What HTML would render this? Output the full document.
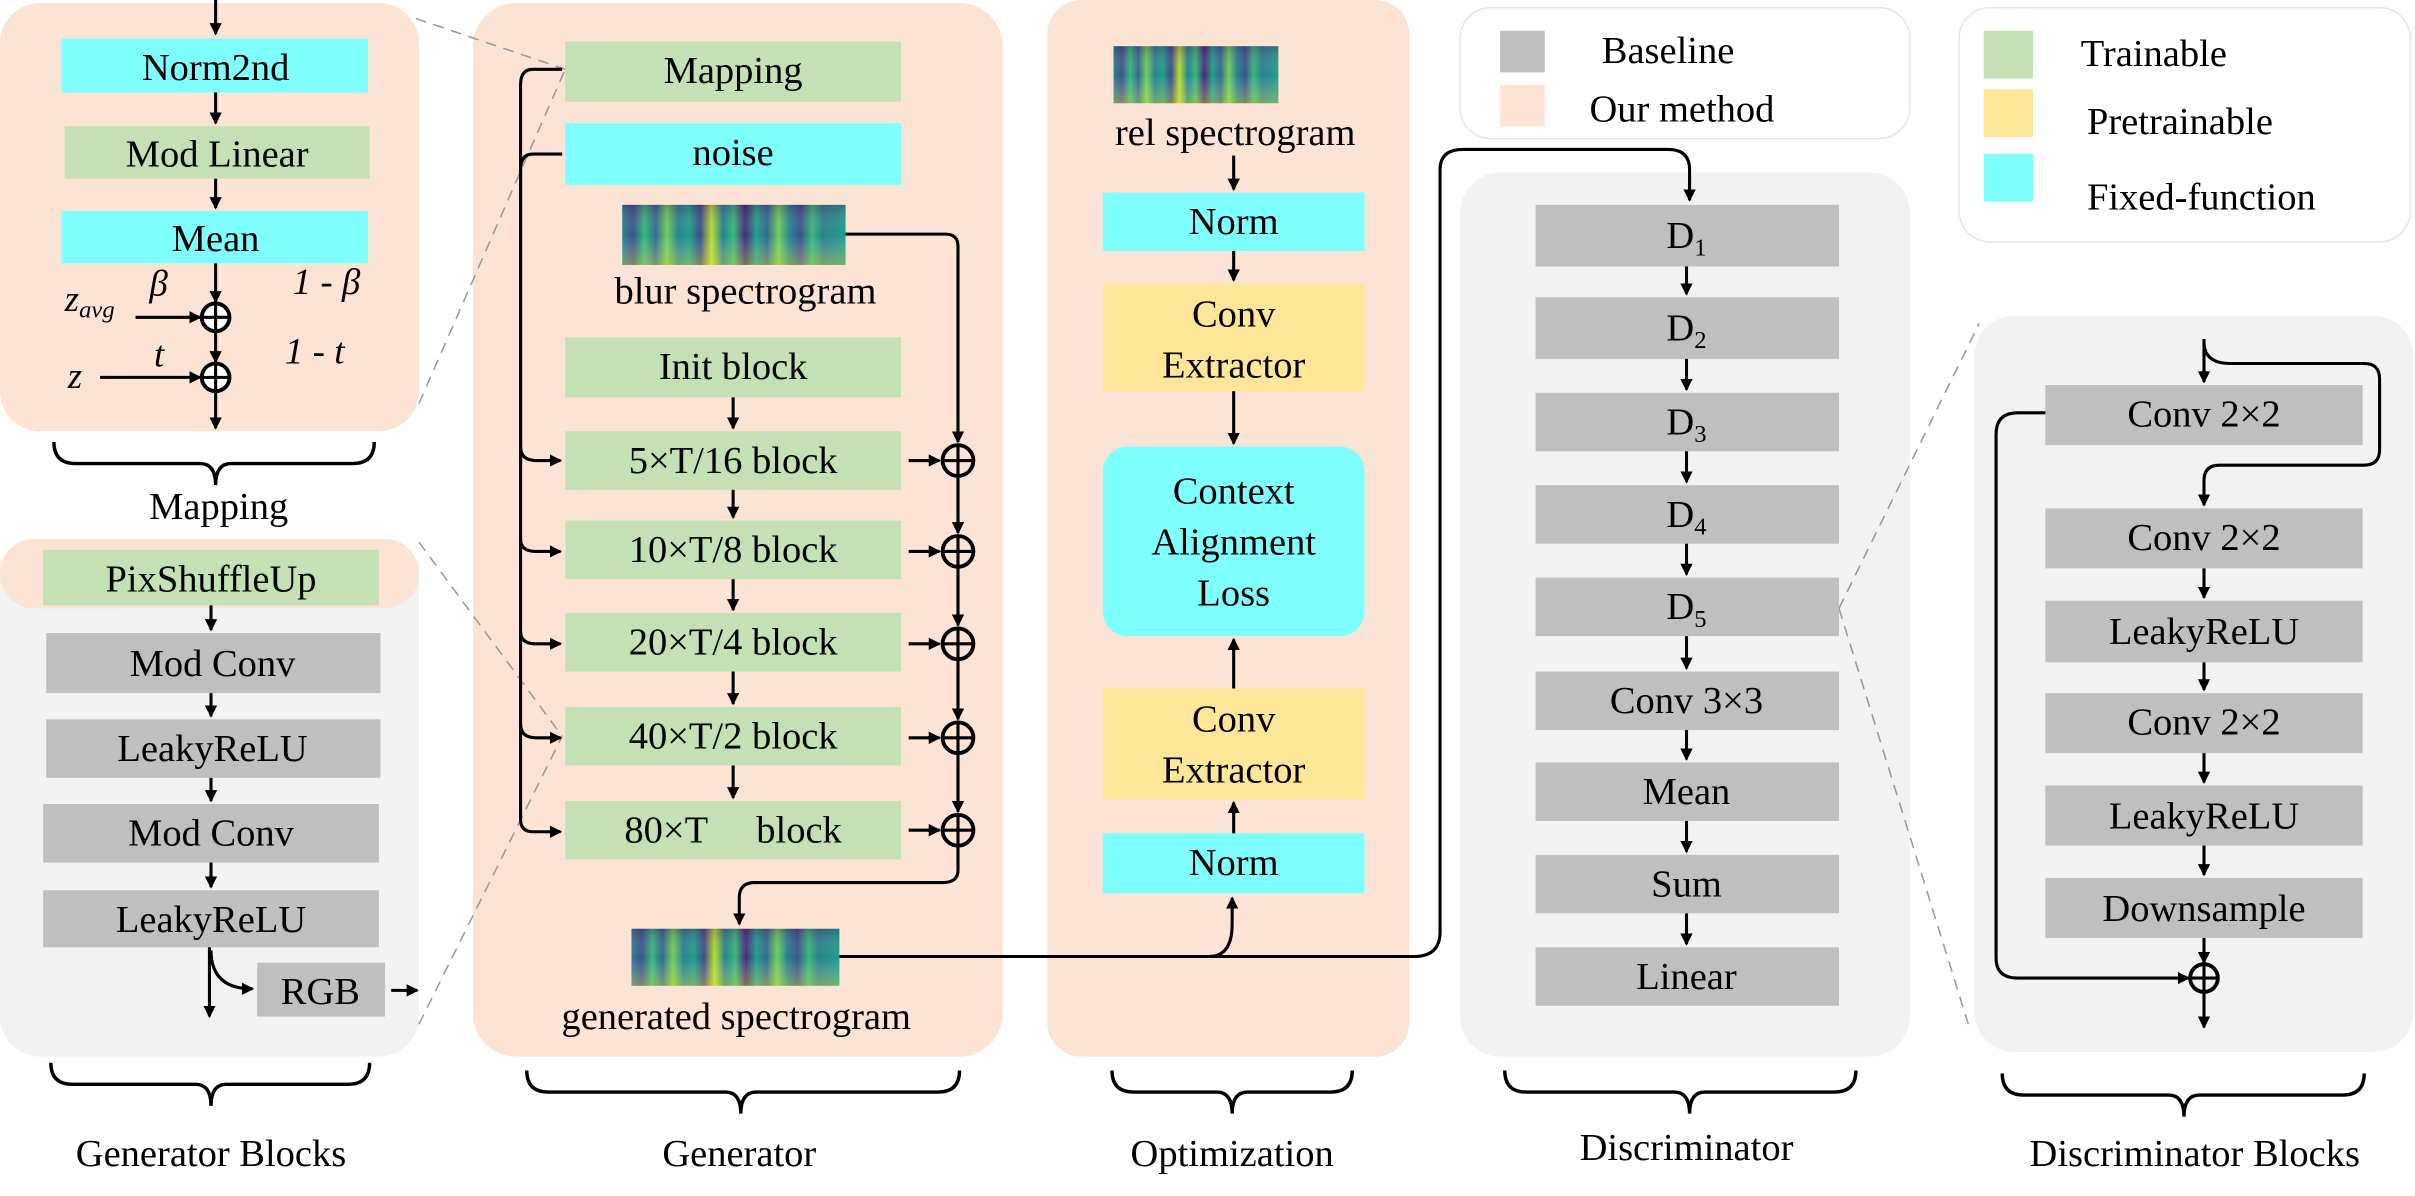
<!DOCTYPE html>
<html><head><meta charset="utf-8"><style>
html,body{margin:0;padding:0;background:#fff}
svg{display:block;font-family:"Liberation Serif","DejaVu Serif",serif}
svg text{font-family:"Liberation Serif","DejaVu Serif",serif;fill:#000}
</style></head><body>
<svg width="2415" height="1196" viewBox="0 0 1568 776.5" preserveAspectRatio="none" xmlns="http://www.w3.org/2000/svg" font-family="Liberation Serif, DejaVu Serif, serif">
<defs>
<marker id="a" markerWidth="8" markerHeight="8" refX="7" refY="4" orient="auto" markerUnits="userSpaceOnUse"><path d="M0,0 L8,4 L0,8 z" fill="#000"/></marker>
<linearGradient id="sp" x1="0" x2="1" y1="0" y2="0">
<stop offset="0" stop-color="#2c7f8e"/><stop offset=".05" stop-color="#3b528b"/><stop offset=".1" stop-color="#35b779"/><stop offset=".15" stop-color="#31688e"/><stop offset=".2" stop-color="#6ece58"/><stop offset=".25" stop-color="#26828e"/><stop offset=".3" stop-color="#1f9e89"/><stop offset=".35" stop-color="#3e4a89"/><stop offset=".4" stop-color="#b5de2b"/><stop offset=".45" stop-color="#26828e"/><stop offset=".5" stop-color="#35b779"/><stop offset=".55" stop-color="#482878"/><stop offset=".6" stop-color="#1f9e89"/><stop offset=".65" stop-color="#31688e"/><stop offset=".7" stop-color="#6ece58"/><stop offset=".75" stop-color="#26828e"/><stop offset=".8" stop-color="#3b528b"/><stop offset=".85" stop-color="#35b779"/><stop offset=".9" stop-color="#2c7f8e"/><stop offset="1" stop-color="#1f9e89"/>
</linearGradient>
<linearGradient id="spv" x1="0" x2="0" y1="0" y2="1">
<stop offset="0" stop-color="#440154" stop-opacity=".25"/><stop offset=".5" stop-color="#fff" stop-opacity="0"/><stop offset="1" stop-color="#fde725" stop-opacity=".35"/>
</linearGradient>
</defs>

<!-- panels -->
<rect x="0" y="2" width="272" height="278" rx="26" fill="#fbe4d5"/>
<rect x="0" y="350" width="272" height="336" rx="26" fill="#f2f2f2"/>
<rect x="0" y="350" width="272" height="45" rx="22" fill="#fbe4d5"/>
<rect x="307" y="2" width="344" height="684" rx="28" fill="#fbe4d5"/>
<rect x="680" y="0" width="235" height="686" rx="22" fill="#fbe4d5"/>
<rect x="948" y="112" width="292" height="574" rx="26" fill="#f2f2f2"/>
<rect x="1282" y="205" width="285" height="478" rx="26" fill="#f2f2f2"/>
<rect x="948" y="5" width="292" height="85" rx="20" fill="#fff" stroke="#e6e6e6"/>
<rect x="1272" y="5" width="293" height="152" rx="20" fill="#fff" stroke="#e6e6e6"/>

<!-- dashed zoom lines -->
<g stroke="#999" stroke-width="1" stroke-dasharray="7,5" fill="none">
<line x1="270" y1="12" x2="367" y2="45"/><line x1="272" y1="262" x2="367" y2="45"/>
<line x1="272" y1="352" x2="365" y2="478"/><line x1="272" y1="665" x2="365" y2="478"/>
<line x1="1194" y1="395" x2="1285" y2="210"/><line x1="1194" y1="395" x2="1278" y2="665"/>
</g>

<!-- Mapping panel -->
<rect x="40" y="25" width="199" height="35" fill="#80ffff"/><text x="140" y="52" font-size="25" text-anchor="middle">Norm2nd</text>
<rect x="42" y="82" width="198" height="34" fill="#c5e0b4"/><text x="141" y="108" font-size="25" text-anchor="middle">Mod Linear</text>
<rect x="40" y="137" width="199" height="34" fill="#80ffff"/><text x="140" y="163" font-size="25" text-anchor="middle">Mean</text>
<g stroke="#000" stroke-width="2" fill="none">
<line x1="140" y1="0" x2="140" y2="22" marker-end="url(#a)"/>
<line x1="140" y1="60" x2="140" y2="80" marker-end="url(#a)"/>
<line x1="140" y1="116" x2="140" y2="135" marker-end="url(#a)"/>
<line x1="140" y1="171" x2="140" y2="196" marker-end="url(#a)"/>
<line x1="140" y1="214" x2="140" y2="235" marker-end="url(#a)"/>
<line x1="140" y1="253" x2="140" y2="278" marker-end="url(#a)"/>
<line x1="88" y1="206" x2="130" y2="206" marker-end="url(#a)"/>
<line x1="65" y1="245" x2="130" y2="245" marker-end="url(#a)"/>
<circle cx="140" cy="206" r="9" fill="#fff" stroke-width="2.5"/><path d="M131,206H149M140,197V215"/>
<circle cx="140" cy="245" r="9" fill="#fff" stroke-width="2.5"/><path d="M131,245H149M140,236V254"/>
</g>
<text x="42" y="202" font-size="24" font-style="italic">z<tspan font-size="16" dy="4">avg</tspan></text>
<text x="97" y="192" font-size="24" font-style="italic">β</text>
<text x="190" y="191" font-size="24" font-style="italic">1 - β</text>
<text x="100" y="238" font-size="24" font-style="italic">t</text>
<text x="185" y="236" font-size="24" font-style="italic">1 - t</text>
<text x="44" y="252" font-size="24" font-style="italic">z</text>

<!-- Generator Blocks -->
<rect x="28" y="357" width="218" height="36" fill="#c5e0b4"/><text x="137" y="384" font-size="25" text-anchor="middle">PixShuffleUp</text>
<rect x="30" y="411" width="217" height="39" fill="#bfbfbf"/><text x="138" y="439" font-size="25" text-anchor="middle">Mod Conv</text>
<rect x="30" y="467" width="217" height="38" fill="#bfbfbf"/><text x="138" y="494" font-size="25" text-anchor="middle">LeakyReLU</text>
<rect x="28" y="522" width="218" height="38" fill="#bfbfbf"/><text x="137" y="549" font-size="25" text-anchor="middle">Mod Conv</text>
<rect x="28" y="578" width="218" height="37" fill="#bfbfbf"/><text x="137" y="605" font-size="25" text-anchor="middle">LeakyReLU</text>
<rect x="167" y="625" width="83" height="35" fill="#bfbfbf"/><text x="208" y="652" font-size="25" text-anchor="middle">RGB</text>
<g stroke="#000" stroke-width="2" fill="none">
<line x1="137" y1="393" x2="137" y2="409" marker-end="url(#a)"/>
<line x1="137" y1="450" x2="137" y2="465" marker-end="url(#a)"/>
<line x1="137" y1="505" x2="137" y2="520" marker-end="url(#a)"/>
<line x1="137" y1="560" x2="137" y2="576" marker-end="url(#a)"/>
<line x1="136" y1="615" x2="136" y2="660" marker-end="url(#a)"/>
<path d="M137,617 Q137,642 164,642" marker-end="url(#a)"/>
<line x1="254" y1="643" x2="271" y2="643" marker-end="url(#a)"/>
</g>

<!-- Generator -->
<rect x="367" y="27" width="218" height="39" fill="#c5e0b4"/><text x="476" y="54" font-size="25" text-anchor="middle">Mapping</text>
<rect x="367" y="80" width="218" height="40" fill="#80ffff"/><text x="476" y="107" font-size="25" text-anchor="middle">noise</text>
<rect x="404" y="133" width="145" height="39" fill="url(#sp)"/><rect x="404" y="133" width="145" height="39" fill="url(#spv)"/>
<text x="484" y="197" font-size="25" text-anchor="middle">blur spectrogram</text>
<rect x="367" y="219" width="218" height="39" fill="#c5e0b4"/><text x="476" y="246" font-size="25" text-anchor="middle">Init block</text>
<rect x="367" y="280" width="218" height="38" fill="#c5e0b4"/><text x="476" y="307" font-size="25" text-anchor="middle">5×T/16 block</text>
<rect x="367" y="338" width="218" height="38" fill="#c5e0b4"/><text x="476" y="365" font-size="25" text-anchor="middle">10×T/8 block</text>
<rect x="367" y="398" width="218" height="38" fill="#c5e0b4"/><text x="476" y="425" font-size="25" text-anchor="middle">20×T/4 block</text>
<rect x="367" y="459" width="218" height="38" fill="#c5e0b4"/><text x="476" y="486" font-size="25" text-anchor="middle">40×T/2 block</text>
<rect x="367" y="520" width="218" height="38" fill="#c5e0b4"/><text x="476" y="547" font-size="25" text-anchor="middle">80×T&#160;&#160;&#160;&#160;&#160;block</text>
<rect x="410" y="603" width="135" height="37" fill="url(#sp)"/><rect x="410" y="603" width="135" height="37" fill="url(#spv)"/>
<text x="478" y="668" font-size="25" text-anchor="middle">generated spectrogram</text>
<g stroke="#000" stroke-width="2" fill="none">
<path d="M365,45 H346 Q338,45 338,55 V532 Q338,540 346,540"/>
<path d="M365,100 H346 Q338,100 338,110 V300"/>
<path d="M338,290 Q338,299 348,299 H364" marker-end="url(#a)"/>
<path d="M338,350 Q338,358 348,358 H364" marker-end="url(#a)"/>
<path d="M338,410 Q338,418 348,418 H364" marker-end="url(#a)"/>
<path d="M338,470 Q338,479 348,479 H364" marker-end="url(#a)"/>
<path d="M346,540 H364" marker-end="url(#a)"/>
<line x1="476" y1="258" x2="476" y2="278" marker-end="url(#a)"/>
<line x1="476" y1="318" x2="476" y2="336" marker-end="url(#a)"/>
<line x1="476" y1="376" x2="476" y2="396" marker-end="url(#a)"/>
<line x1="476" y1="436" x2="476" y2="457" marker-end="url(#a)"/>
<line x1="476" y1="497" x2="476" y2="518" marker-end="url(#a)"/>
<path d="M549,152 H614 Q622,152 622,160 V287" marker-end="url(#a)"/>
<line x1="622" y1="309" x2="622" y2="346" marker-end="url(#a)"/>
<line x1="622" y1="368" x2="622" y2="406" marker-end="url(#a)"/>
<line x1="622" y1="428" x2="622" y2="467" marker-end="url(#a)"/>
<line x1="622" y1="489" x2="622" y2="527" marker-end="url(#a)"/>
<line x1="590" y1="299" x2="610" y2="299" marker-end="url(#a)"/>
<line x1="590" y1="358" x2="610" y2="358" marker-end="url(#a)"/>
<line x1="590" y1="418" x2="610" y2="418" marker-end="url(#a)"/>
<line x1="590" y1="479" x2="610" y2="479" marker-end="url(#a)"/>
<line x1="590" y1="539" x2="610" y2="539" marker-end="url(#a)"/>
<g stroke-width="2.5"><circle cx="622" cy="299" r="10"/><circle cx="622" cy="358" r="10"/><circle cx="622" cy="418" r="10"/><circle cx="622" cy="479" r="10"/><circle cx="622" cy="539" r="10"/></g>
<path d="M612,299H632M612,358H632M612,418H632M612,479H632M612,539H632"/>
<path d="M622,289V309M622,348V368M622,408V428M622,469V489M622,529V549"/>
<path d="M622,549 V565 Q622,573 612,573 H490 Q480,573 480,583 V600" marker-end="url(#a)"/>
<path d="M545,621 H785 Q800,621 800,600 V583" marker-end="url(#a)"/>
<path d="M785,621 H918 Q935,621 935,605 V110 Q935,97 950,97 H1083 Q1097,97 1097,110 V130" marker-end="url(#a)"/>
</g>

<!-- Optimization -->
<rect x="723" y="30" width="107" height="37" fill="url(#sp)"/><rect x="723" y="30" width="107" height="37" fill="url(#spv)"/>
<text x="802" y="94" font-size="25" text-anchor="middle">rel spectrogram</text>
<rect x="716" y="125" width="170" height="38" fill="#80ffff"/><text x="801" y="152" font-size="25" text-anchor="middle">Norm</text>
<rect x="716" y="184" width="170" height="70" fill="#ffe699"/><text x="801" y="212" font-size="25" text-anchor="middle">Conv</text><text x="801" y="245" font-size="25" text-anchor="middle">Extractor</text>
<rect x="716" y="290" width="170" height="123" rx="16" fill="#80ffff"/>
<text x="801" y="327" font-size="25" text-anchor="middle">Context</text><text x="801" y="360" font-size="25" text-anchor="middle">Alignment</text><text x="801" y="393" font-size="25" text-anchor="middle">Loss</text>
<rect x="716" y="447" width="170" height="72" fill="#ffe699"/><text x="801" y="475" font-size="25" text-anchor="middle">Conv</text><text x="801" y="508" font-size="25" text-anchor="middle">Extractor</text>
<rect x="716" y="541" width="170" height="39" fill="#80ffff"/><text x="801" y="568" font-size="25" text-anchor="middle">Norm</text>
<g stroke="#000" stroke-width="2" fill="none">
<line x1="801" y1="101" x2="801" y2="123" marker-end="url(#a)"/>
<line x1="801" y1="163" x2="801" y2="182" marker-end="url(#a)"/>
<line x1="801" y1="254" x2="801" y2="288" marker-end="url(#a)"/>
<line x1="801" y1="447" x2="801" y2="415" marker-end="url(#a)"/>
<line x1="801" y1="541" x2="801" y2="521" marker-end="url(#a)"/>
</g>

<!-- Legends -->
<rect x="974" y="20" width="29" height="27" fill="#bfbfbf"/><text x="1040" y="41" font-size="25">Baseline</text>
<rect x="974" y="55" width="29" height="27" fill="#fbe4d5"/><text x="1032" y="79" font-size="25">Our method</text>
<rect x="1288" y="20" width="32" height="31" fill="#c5e0b4"/><text x="1351" y="43" font-size="25">Trainable</text>
<rect x="1288" y="58" width="32" height="31" fill="#ffe699"/><text x="1355" y="87" font-size="25">Pretrainable</text>
<rect x="1288" y="100" width="32" height="31" fill="#80ffff"/><text x="1355" y="136" font-size="25">Fixed-function</text>

<!-- Discriminator -->
<g font-size="25" text-anchor="middle">
<rect x="997" y="133" width="197" height="40" fill="#bfbfbf"/><text x="1095" y="161">D<tspan font-size="16" dy="5">1</tspan></text>
<rect x="997" y="193" width="197" height="40" fill="#bfbfbf"/><text x="1095" y="221">D<tspan font-size="16" dy="5">2</tspan></text>
<rect x="997" y="255" width="197" height="38" fill="#bfbfbf"/><text x="1095" y="282">D<tspan font-size="16" dy="5">3</tspan></text>
<rect x="997" y="315" width="197" height="38" fill="#bfbfbf"/><text x="1095" y="342">D<tspan font-size="16" dy="5">4</tspan></text>
<rect x="997" y="375" width="197" height="38" fill="#bfbfbf"/><text x="1095" y="402">D<tspan font-size="16" dy="5">5</tspan></text>
<rect x="997" y="436" width="197" height="38" fill="#bfbfbf"/><text x="1095" y="463">Conv 3×3</text>
<rect x="997" y="495" width="197" height="38" fill="#bfbfbf"/><text x="1095" y="522">Mean</text>
<rect x="997" y="555" width="197" height="38" fill="#bfbfbf"/><text x="1095" y="582">Sum</text>
<rect x="997" y="615" width="197" height="38" fill="#bfbfbf"/><text x="1095" y="642">Linear</text>
</g>
<g stroke="#000" stroke-width="2" fill="none">
<line x1="1095" y1="173" x2="1095" y2="191" marker-end="url(#a)"/>
<line x1="1095" y1="233" x2="1095" y2="253" marker-end="url(#a)"/>
<line x1="1095" y1="293" x2="1095" y2="313" marker-end="url(#a)"/>
<line x1="1095" y1="353" x2="1095" y2="373" marker-end="url(#a)"/>
<line x1="1095" y1="413" x2="1095" y2="434" marker-end="url(#a)"/>
<line x1="1095" y1="474" x2="1095" y2="493" marker-end="url(#a)"/>
<line x1="1095" y1="533" x2="1095" y2="553" marker-end="url(#a)"/>
<line x1="1095" y1="593" x2="1095" y2="613" marker-end="url(#a)"/>
</g>

<!-- Discriminator Blocks -->
<g font-size="25" text-anchor="middle">
<rect x="1328" y="250" width="206" height="39" fill="#bfbfbf"/><text x="1431" y="277">Conv 2×2</text>
<rect x="1328" y="330" width="206" height="39" fill="#bfbfbf"/><text x="1431" y="357">Conv 2×2</text>
<rect x="1328" y="390" width="206" height="40" fill="#bfbfbf"/><text x="1431" y="418">LeakyReLU</text>
<rect x="1328" y="450" width="206" height="39" fill="#bfbfbf"/><text x="1431" y="477">Conv 2×2</text>
<rect x="1328" y="510" width="206" height="39" fill="#bfbfbf"/><text x="1431" y="538">LeakyReLU</text>
<rect x="1328" y="570" width="206" height="39" fill="#bfbfbf"/><text x="1431" y="598">Downsample</text>
</g>
<g stroke="#000" stroke-width="2" fill="none">
<line x1="1431" y1="220" x2="1431" y2="248" marker-end="url(#a)"/>
<path d="M1431,222 Q1431,236 1448,236 H1535 Q1545,236 1545,246 V292 Q1545,302 1535,302 H1441 Q1431,302 1431,312 V328" marker-end="url(#a)"/>
<line x1="1431" y1="369" x2="1431" y2="388" marker-end="url(#a)"/>
<line x1="1431" y1="430" x2="1431" y2="448" marker-end="url(#a)"/>
<line x1="1431" y1="489" x2="1431" y2="508" marker-end="url(#a)"/>
<line x1="1431" y1="549" x2="1431" y2="568" marker-end="url(#a)"/>
<line x1="1431" y1="609" x2="1431" y2="625" marker-end="url(#a)"/>
<path d="M1328,268 H1310 Q1296,268 1296,282 V622 Q1296,635 1310,635 H1421" marker-end="url(#a)"/>
<circle cx="1431" cy="635" r="9" stroke-width="2.5"/><path d="M1422,635H1440M1431,626V644"/>
<line x1="1431" y1="644" x2="1431" y2="667" marker-end="url(#a)"/>
</g>

<!-- braces -->
<g stroke="#000" stroke-width="2.2" fill="none">
<path d="M35,287 q0,14 14,14 H130 q10,0 10,14 q0,-14 10,-14 H229 q14,0 14,-14"/>
<path d="M33,690 q0,14 14,14 H127 q10,0 10,14 q0,-14 10,-14 H226 q14,0 14,-14"/>
<path d="M342,695 q0,14 14,14 H471 q10,0 10,14 q0,-14 10,-14 H609 q14,0 14,-14"/>
<path d="M722,695 q0,14 14,14 H790 q10,0 10,14 q0,-14 10,-14 H864 q14,0 14,-14"/>
<path d="M977,695 q0,14 14,14 H1087 q10,0 10,14 q0,-14 10,-14 H1191 q14,0 14,-14"/>
<path d="M1300,697 q0,14 14,14 H1408 q10,0 10,14 q0,-14 10,-14 H1521 q14,0 14,-14"/>
</g>
<g font-size="25" text-anchor="middle">
<text x="142" y="337">Mapping</text>
<text x="137" y="757">Generator Blocks</text>
<text x="480" y="757">Generator</text>
<text x="800" y="757">Optimization</text>
<text x="1095" y="753">Discriminator</text>
<text x="1425" y="757">Discriminator Blocks</text>
</g>
</svg>
</body></html>
